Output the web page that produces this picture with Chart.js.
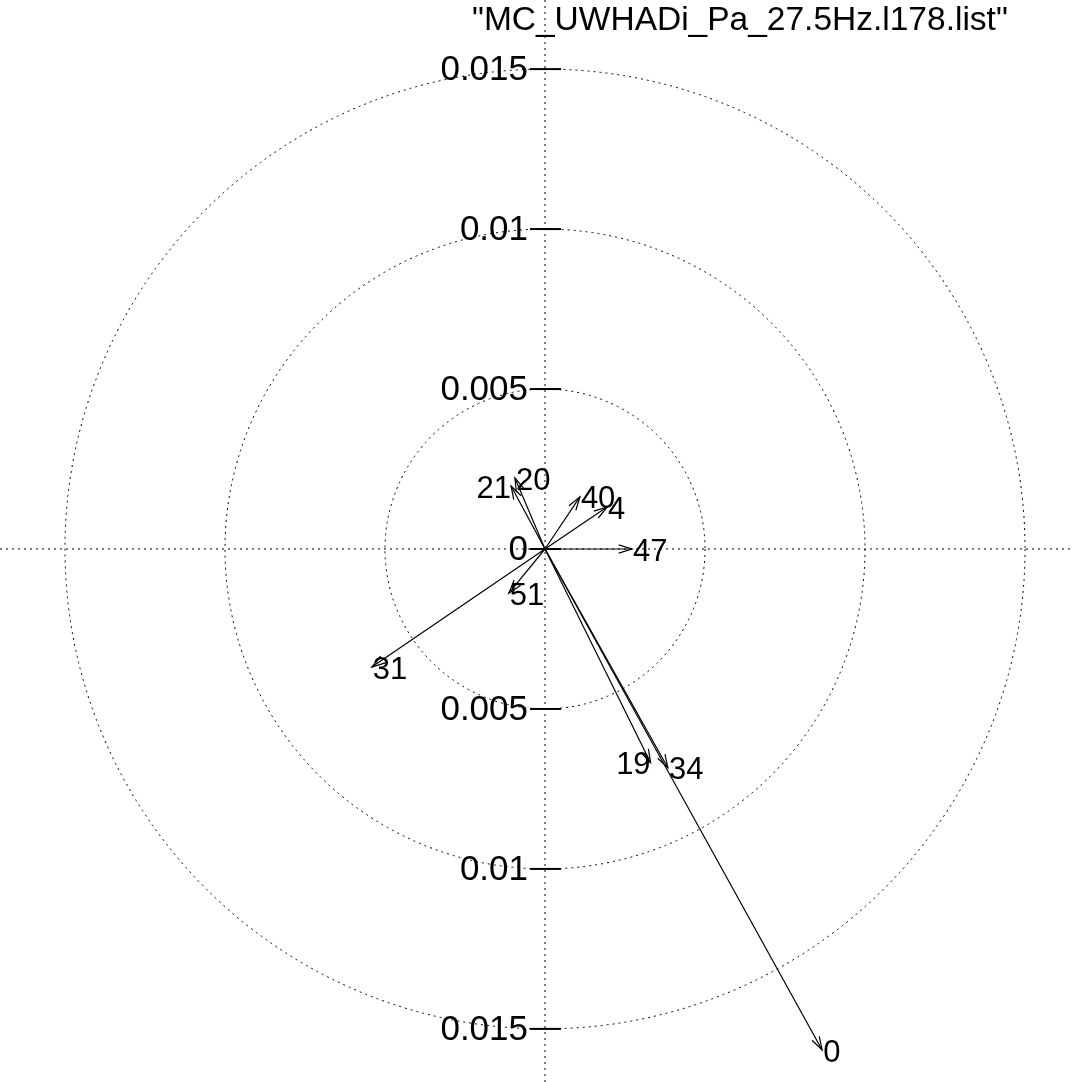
<!DOCTYPE html>
<html>
<head>
<meta charset="utf-8">
<script src="https://cdn.jsdelivr.net/npm/chart.js@4/dist/chart.umd.min.js"></script>
<style>
  html, body { margin: 0; padding: 0; background: #fff; }
  canvas { display: block; }
</style>
</head>
<body>
<canvas id="c" width="1074" height="1082"></canvas>
<script>
// Phasor labels and their real / imaginary parts
const phasorNames = ['0', '4', '19', '20', '21', '31', '34', '40', '47', '51'];
const phasorRe = [0.00866, 0.00194, 0.00330, -0.00094, -0.00106, -0.00541, 0.00384, 0.00109, 0.00272, -0.00113];
const phasorIm = [-0.01566, 0.00131, -0.00668, 0.00222, 0.00197, -0.00369, -0.00684, 0.00163, 0.0, -0.00138];

// Radial grid rings and the labels written on the vertical axis
const ringRadii = [0.005, 0.01, 0.015];
const axisTickValues = [0.015, 0.01, 0.005, 0, -0.005, -0.01, -0.015];
const axisTickLabels = ['0.015', '0.01', '0.005', '0', '0.005', '0.01', '0.015'];

const titleText = '"MC_UWHADi_Pa_27.5Hz.l178.list"';

const datasets = phasorNames.map((n, i) => ({
  label: n,
  data: [{ x: 0, y: 0 }, { x: phasorRe[i], y: phasorIm[i] }],
  showLine: true,
  borderColor: '#000',
  borderWidth: 1.2,
  pointRadius: 0,
  pointHoverRadius: 0,
  fill: false
}));

const FONT = '"Liberation Sans", Arial, Helvetica, sans-serif';

// Grid rings, axes and tick marks drawn underneath the phasors
const polarGrid = {
  id: 'polarGrid',
  beforeDatasetsDraw(chart) {
    const ctx = chart.ctx;
    const xs = chart.scales.x, ys = chart.scales.y;
    const cx = xs.getPixelForValue(0), cy = ys.getPixelForValue(0);
    ctx.save();
    ctx.strokeStyle = '#000';
    ctx.lineWidth = 1;
    ctx.setLineDash([2, 4]);
    // cross axes
    ctx.beginPath();
    ctx.moveTo(chart.chartArea.left, cy);
    ctx.lineTo(chart.chartArea.right, cy);
    ctx.moveTo(cx, chart.chartArea.top);
    ctx.lineTo(cx, chart.chartArea.bottom);
    ctx.stroke();
    // rings
    ringRadii.forEach(r => {
      const rx = xs.getPixelForValue(r) - cx;
      const ry = cy - ys.getPixelForValue(r);
      ctx.beginPath();
      ctx.ellipse(cx, cy, rx, ry, 0, 0, Math.PI * 2);
      ctx.stroke();
    });
    ctx.setLineDash([]);
    // tick marks and labels
    ctx.lineWidth = 2;
    ctx.fillStyle = '#000';
    ctx.font = '35px ' + FONT;
    ctx.textAlign = 'right';
    ctx.textBaseline = 'middle';
    axisTickValues.forEach((v, i) => {
      const py = ys.getPixelForValue(v);
      ctx.beginPath();
      ctx.moveTo(cx - 15, py);
      ctx.lineTo(cx + 16, py);
      ctx.stroke();
      ctx.fillText(axisTickLabels[i], cx - 17, py + 1);
    });
    ctx.restore();
  }
};

// Arrow heads and point labels at the phasor tips
const phasorTips = {
  id: 'phasorTips',
  afterDatasetsDraw(chart, args, opts) {
    const ctx = chart.ctx;
    const rightSet = opts.rightAligned || [];
    ctx.save();
    ctx.strokeStyle = '#000';
    ctx.lineWidth = 1.2;
    ctx.fillStyle = '#000';
    ctx.font = '31px ' + FONT;
    ctx.textBaseline = 'middle';
    chart.data.datasets.forEach((ds, i) => {
      const meta = chart.getDatasetMeta(i);
      const p0 = meta.data[0], p1 = meta.data[1];
      const ang = Math.atan2(p1.y - p0.y, p1.x - p0.x);
      const len = 14, spread = 0.3;
      ctx.beginPath();
      ctx.moveTo(p1.x - len * Math.cos(ang - spread), p1.y - len * Math.sin(ang - spread));
      ctx.lineTo(p1.x, p1.y);
      ctx.lineTo(p1.x - len * Math.cos(ang + spread), p1.y - len * Math.sin(ang + spread));
      ctx.stroke();
      const right = rightSet.includes(ds.label);
      ctx.textAlign = right ? 'right' : 'left';
      ctx.fillText(ds.label, p1.x + (right ? 0 : 1), p1.y + 3);
    });
    ctx.restore();
  }
};

// Title above the plot
const titlePlugin = {
  id: 'titleText',
  afterDraw(chart) {
    const ctx = chart.ctx;
    ctx.save();
    ctx.fillStyle = '#000';
    ctx.font = '33.5px ' + FONT;
    ctx.textAlign = 'left';
    ctx.textBaseline = 'middle';
    ctx.fillText(titleText, 472, 21);
    ctx.restore();
  }
};

new Chart(document.getElementById('c'), {
  type: 'scatter',
  data: { datasets },
  options: {
    responsive: false,
    animation: false,
    events: [],
    layout: { padding: 0 },
    scales: {
      x: { type: 'linear', display: false, min: -0.01703, max: 0.01653 },
      y: { type: 'linear', display: false, min: -0.01666, max: 0.01716 }
    },
    plugins: {
      legend: { display: false },
      tooltip: { enabled: false },
      phasorTips: { rightAligned: ['19', '21'] }
    }
  },
  plugins: [polarGrid, phasorTips, titlePlugin]
});
</script>
</body>
</html>
